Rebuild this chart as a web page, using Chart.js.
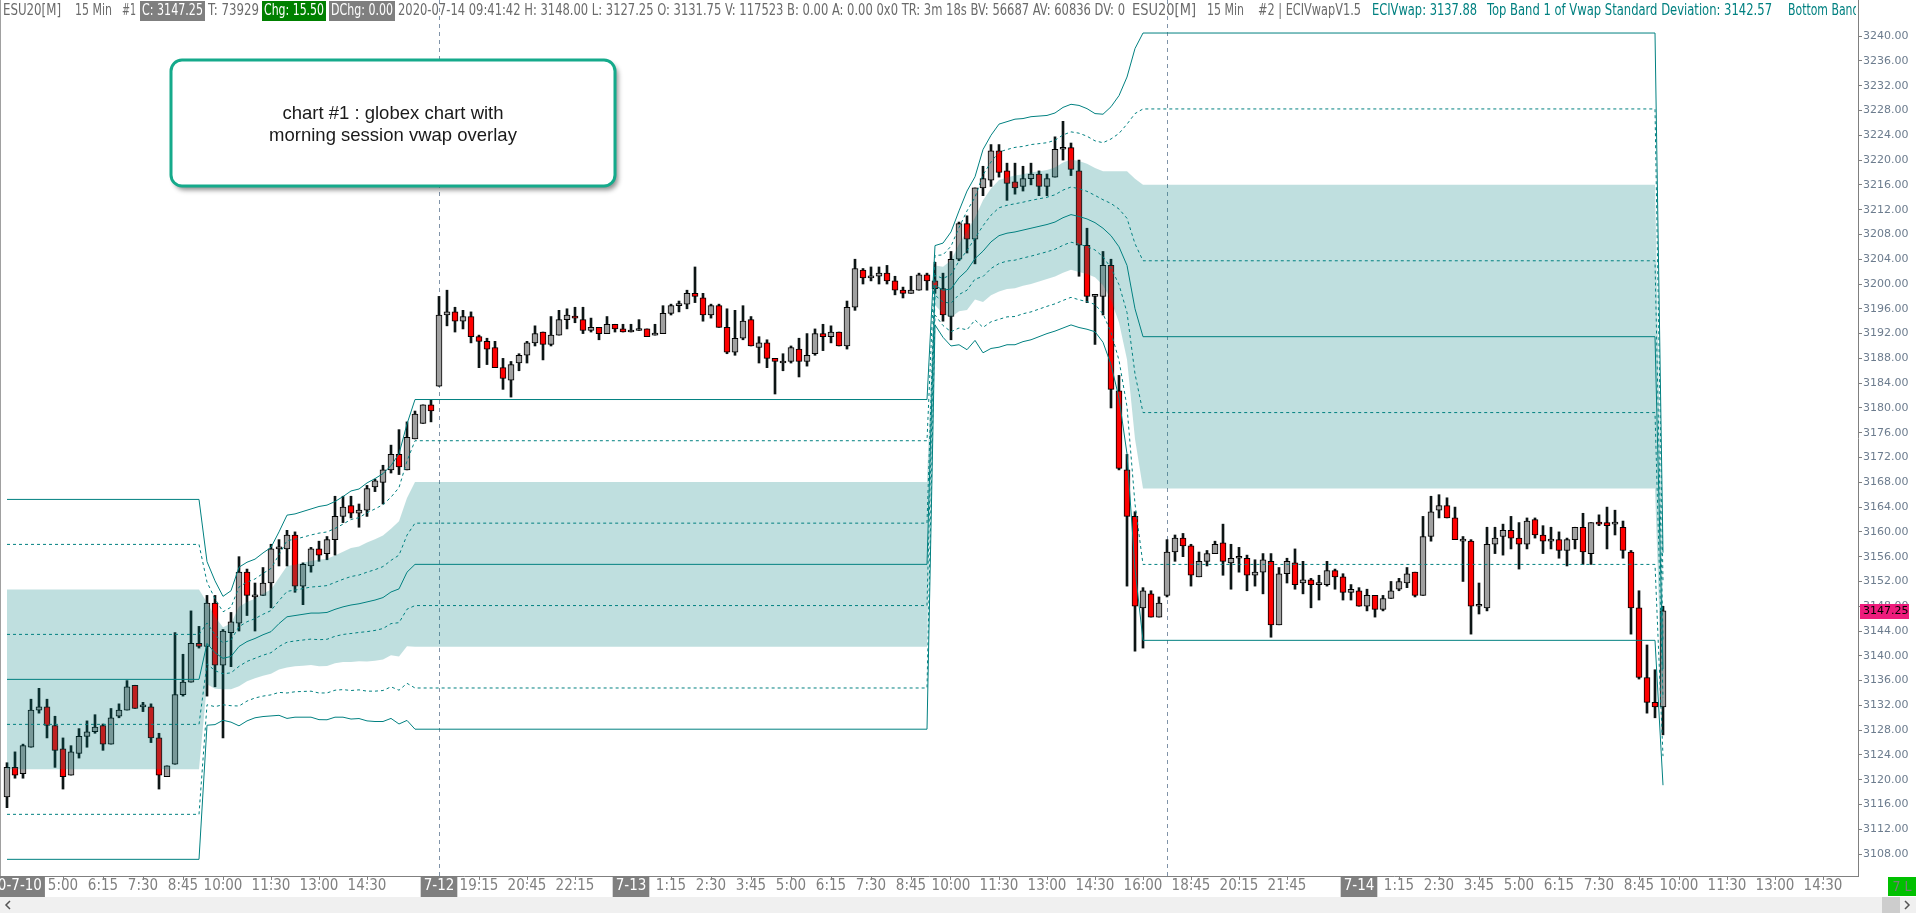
<!DOCTYPE html>
<html><head><meta charset="utf-8">
<script src="https://cdn.jsdelivr.net/npm/chart.js@4.4.0/dist/chart.umd.min.js"></script>
<style>html,body{margin:0;padding:0;background:#fff;overflow:hidden}canvas{display:block}</style>
</head><body>
<canvas id="c" width="1916" height="913"></canvas>
<script>
// ---- 15 min bars, ESU20, 2020-07-10 03:15 .. 2020-07-14 09:30 ----
const opens = [
3117.25,3122.0,3121.0,3125.25,3131.25,3131.75,3128.75,3125.0,3120.75,3124.25,
3127.0,3127.75,3128.75,3125.75,3130.25,3131.25,3135.25,3131.75,3131.75,3126.75,
3120.5,3122.5,3133.75,3135.75,3142.0,3141.5,3148.5,3138.5,3143.75,3145.25,
3153.5,3149.5,3149.75,3151.75,3157.25,3157.25,3159.5,3151.25,3154.5,3157.25,
3156.5,3158.75,3162.5,3164.25,3163.0,3163.5,3167.25,3168.0,3170.0,3172.5,
3170.0,3175.0,3177.5,3180.5,3183.5,3195.0,3195.5,3194.0,3194.75,3191.5,
3190.75,3189.75,3186.5,3184.5,3187.25,3188.5,3190.5,3192.25,3190.25,3191.75,
3194.25,3194.75,3194.25,3192.5,3193.0,3192.0,3193.5,3192.75,3192.25,3192.5,
3192.75,3191.75,3192.0,3195.25,3196.5,3196.75,3198.5,3197.75,3195.0,3196.5,
3193.0,3189.0,3191.25,3194.25,3189.75,3190.5,3188.0,3187.25,3187.5,3189.5,
3187.5,3188.75,3192.0,3191.5,3192.25,3190.0,3196.25,3202.25,3201.0,3201.25,
3201.75,3200.5,3199.0,3198.5,3199.0,3201.5,3200.5,3199.25,3194.75,3204.0,
3209.75,3207.25,3215.5,3216.75,3221.5,3218.25,3216.5,3215.75,3217.0,3217.75,
3215.75,3217.25,3221.75,3222.0,3218.25,3206.25,3198.0,3198.0,3203.0,3182.75,
3170.0,3162.5,3147.75,3150.0,3146.25,3149.75,3156.75,3159.0,3157.75,3152.75,
3155.25,3156.5,3158.25,3155.0,3155.75,3155.75,3153.0,3153.5,3155.25,3145.0,
3153.25,3155.0,3151.75,3152.25,3151.5,3151.5,3153.75,3152.75,3150.25,3150.5,
3148.0,3149.75,3147.5,3149.25,3150.75,3151.75,3153.5,3149.75,3159.25,3163.5,
3164.25,3162.25,3158.5,3158.5,3148.0,3147.75,3158.0,3159.25,3160.25,3159.0,
3158.0,3162.0,3159.5,3158.5,3158.75,3157.0,3158.75,3160.75,3156.5,3161.5,
3161.5,3161.25,3160.75,3156.75,3147.75,3136.5,3132.5,3131.75];
const highs = [
3122.75,3124.5,3125.75,3133.0,3134.75,3133.0,3130.25,3126.75,3125.5,3128.25,
3129.5,3130.5,3129.0,3131.5,3132.25,3136.0,3135.25,3132.5,3132.25,3127.5,
3122.25,3143.75,3140.25,3147.25,3144.75,3149.75,3149.75,3144.25,3147.0,3156.0,
3154.0,3151.75,3154.25,3158.0,3158.75,3160.25,3160.0,3155.0,3157.5,3158.5,
3159.25,3165.75,3165.75,3165.75,3164.5,3167.5,3168.5,3170.75,3174.0,3176.5,
3177.75,3179.5,3180.5,3181.25,3198.0,3199.0,3196.25,3195.75,3195.5,3191.75,
3191.25,3190.75,3188.0,3187.5,3188.75,3190.75,3193.25,3192.25,3194.75,3195.75,
3196.0,3196.25,3196.25,3194.5,3193.0,3194.75,3193.5,3193.5,3193.5,3194.25,
3192.75,3193.5,3196.5,3196.75,3197.25,3199.0,3202.75,3198.5,3196.75,3196.75,
3196.0,3195.75,3196.5,3194.75,3191.5,3191.0,3188.0,3188.75,3190.0,3191.25,
3192.0,3192.75,3193.5,3193.25,3192.25,3197.25,3204.0,3202.5,3202.75,3202.75,
3203.0,3201.25,3199.5,3201.25,3201.75,3201.75,3203.5,3201.75,3205.25,3210.0,
3211.0,3215.5,3219.0,3222.5,3222.5,3219.5,3219.5,3219.0,3219.5,3218.25,
3217.75,3223.75,3226.25,3222.75,3220.0,3209.0,3198.25,3205.25,3204.0,3185.25,
3172.5,3163.25,3151.0,3150.5,3149.5,3158.75,3159.5,3159.75,3158.0,3156.75,
3157.0,3158.5,3161.25,3158.0,3157.5,3156.25,3155.5,3156.5,3156.5,3154.25,
3155.75,3157.25,3155.25,3152.5,3153.0,3155.25,3154.0,3153.25,3151.5,3151.0,
3150.75,3149.75,3149.75,3152.0,3152.5,3154.25,3153.5,3162.5,3165.75,3166.0,
3165.5,3164.0,3159.25,3158.75,3151.75,3160.75,3160.75,3161.25,3162.5,3161.5,
3162.25,3162.25,3161.0,3160.75,3160.0,3159.0,3160.75,3163.0,3161.5,3162.75,
3164.0,3163.5,3161.75,3157.0,3150.5,3141.75,3137.75,3148.0];
const lows = [
3115.5,3120.25,3120.25,3125.25,3130.75,3126.75,3122.0,3118.5,3120.75,3123.5,
3125.25,3127.5,3124.75,3125.75,3130.0,3131.25,3131.5,3131.0,3126.0,3118.5,
3120.5,3122.5,3133.5,3135.75,3141.25,3133.5,3135.0,3126.75,3138.25,3144.0,
3146.5,3144.0,3149.75,3147.75,3154.5,3154.5,3150.25,3148.25,3153.5,3155.25,
3155.5,3156.25,3161.5,3162.25,3160.75,3162.5,3166.5,3164.5,3169.5,3169.25,
3170.0,3175.0,3177.5,3177.75,3183.5,3193.25,3192.25,3192.75,3190.5,3186.5,
3187.0,3186.5,3183.0,3181.75,3186.0,3187.25,3190.0,3187.75,3190.0,3191.75,
3192.75,3193.75,3192.0,3192.25,3191.0,3192.0,3192.25,3192.25,3192.25,3192.5,
3191.5,3191.75,3192.0,3195.0,3195.5,3196.0,3197.0,3194.0,3194.5,3193.0,
3188.75,3188.5,3191.0,3190.0,3187.25,3186.5,3182.25,3186.0,3187.25,3185.0,
3186.75,3188.5,3189.25,3190.5,3190.0,3189.5,3195.75,3200.0,3200.5,3200.0,
3200.0,3198.25,3197.75,3198.5,3199.0,3199.0,3198.5,3194.0,3191.0,3203.75,
3205.0,3203.25,3214.25,3215.75,3217.25,3213.5,3214.5,3215.0,3216.0,3214.25,
3214.25,3217.25,3220.0,3217.5,3201.25,3197.0,3190.25,3195.0,3180.0,3170.0,
3151.25,3140.75,3141.25,3146.25,3146.25,3149.5,3155.25,3156.0,3151.25,3152.75,
3154.5,3156.5,3153.0,3150.75,3153.5,3150.5,3151.25,3150.0,3143.0,3145.0,
3151.75,3150.75,3150.0,3147.75,3149.0,3151.25,3150.75,3149.0,3149.0,3148.0,
3147.25,3146.25,3147.25,3149.25,3150.5,3151.0,3149.5,3149.75,3158.5,3162.25,
3162.25,3158.75,3152.0,3143.5,3146.75,3147.25,3156.5,3156.25,3157.25,3154.0,
3157.25,3159.0,3156.5,3157.25,3155.75,3154.5,3157.25,3154.75,3154.75,3161.0,
3157.25,3159.5,3155.75,3143.5,3136.25,3130.75,3130.0,3127.25];
const closes = [
3122.0,3120.75,3125.5,3131.25,3131.75,3128.75,3124.75,3120.5,3124.5,3127.0,
3127.75,3128.5,3125.75,3130.0,3131.25,3135.0,3131.5,3131.75,3126.75,3120.75,
3122.25,3133.75,3135.75,3142.0,3141.5,3148.5,3138.5,3144.0,3145.5,3153.5,
3149.75,3149.75,3151.75,3157.25,3157.5,3159.5,3151.25,3154.75,3157.25,3156.25,
3158.75,3162.5,3164.0,3163.0,3163.5,3167.0,3168.25,3170.0,3172.5,3170.5,
3175.25,3179.0,3180.5,3179.5,3195.0,3195.5,3194.0,3194.75,3191.5,3190.75,
3189.5,3186.5,3184.75,3187.0,3188.5,3190.5,3192.0,3190.25,3191.75,3194.25,
3195.0,3194.5,3192.5,3193.0,3192.0,3193.5,3192.75,3192.25,3192.5,3192.5,
3191.5,3192.0,3195.25,3196.5,3196.75,3198.5,3198.0,3195.0,3196.5,3193.0,
3189.0,3191.25,3194.0,3190.0,3190.5,3188.0,3187.5,3187.5,3189.75,3187.5,
3188.5,3192.0,3191.5,3192.25,3190.0,3196.25,3202.5,3201.0,3201.25,3201.75,
3200.5,3199.0,3198.5,3199.0,3201.5,3200.5,3199.25,3195.0,3204.0,3209.75,
3207.25,3215.5,3217.0,3221.5,3218.0,3216.25,3215.5,3217.0,3217.75,3215.75,
3217.0,3221.75,3222.0,3218.5,3206.25,3198.0,3198.0,3203.0,3183.0,3170.25,
3162.5,3148.0,3150.5,3146.25,3148.5,3156.75,3159.0,3157.75,3153.0,3155.25,
3156.5,3158.0,3155.25,3155.75,3156.0,3153.0,3153.5,3155.5,3145.0,3153.25,
3155.25,3151.5,3152.25,3151.5,3151.5,3153.75,3152.75,3150.25,3150.75,3148.0,
3149.75,3147.5,3149.25,3150.5,3152.0,3153.25,3149.75,3159.25,3163.25,3164.25,
3162.25,3158.75,3158.75,3148.0,3148.0,3158.0,3159.0,3160.25,3159.0,3158.0,
3161.75,3159.5,3158.5,3158.5,3157.0,3158.75,3160.75,3156.75,3161.5,3161.25,
3161.0,3161.25,3157.0,3147.75,3136.5,3132.5,3131.75,3147.25];

// ---- morning-session VWAP (centre) and band step, one value per bar ----
const vwapMid = [
3136.2,3136.2,3136.2,3136.2,3136.2,3136.2,3136.2,3136.2,3136.2,3136.2,
3136.2,3136.2,3136.2,3136.2,3136.2,3136.2,3136.2,3136.2,3136.2,3136.2,
3136.2,3136.2,3136.2,3136.2,3136.2,
3142.0,3140.5,3139.6,3139.9,3141.5,3142.3,3142.8,3143.4,3143.9,3145.2,
3146.3,3146.5,3146.7,3146.9,3146.9,3147.0,3147.5,3147.9,3148.2,3148.4,
3148.7,3149.0,3149.4,3150.3,3150.8,3153.5,3154.76,
3154.76,3154.76,3154.76,3154.76,3154.76,3154.76,3154.76,3154.76,
3154.76,3154.76,3154.76,3154.76,3154.76,3154.76,3154.76,3154.76,
3154.76,3154.76,3154.76,3154.76,3154.76,3154.76,3154.76,3154.76,
3154.76,3154.76,3154.76,3154.76,3154.76,3154.76,3154.76,3154.76,
3154.76,3154.76,3154.76,3154.76,3154.76,3154.76,3154.76,3154.76,
3154.76,3154.76,3154.76,3154.76,3154.76,3154.76,3154.76,3154.76,
3154.76,3154.76,3154.76,3154.76,3154.76,3154.76,3154.76,3154.76,
3154.76,3154.76,3154.76,3154.76,3154.76,3154.76,3154.76,3154.76,
3199.8,3199.0,3199.2,3201.0,3202.2,3204.1,3205.3,3206.8,3207.8,3208.2,
3208.4,3208.7,3209.0,3209.3,3209.6,3210.0,3210.7,3211.2,3210.9,3210.5,
3209.9,3209.0,3207.8,3206.0,3203.0,3196.0,3191.5,
3191.5,3191.5,3191.5,3191.5,3191.5,3191.5,3191.5,3191.5,
3191.5,3191.5,3191.5,3191.5,3191.5,3191.5,3191.5,3191.5,
3191.5,3191.5,3191.5,3191.5,3191.5,3191.5,3191.5,3191.5,
3191.5,3191.5,3191.5,3191.5,3191.5,3191.5,3191.5,3191.5,
3191.5,3191.5,3191.5,3191.5,3191.5,3191.5,3191.5,3191.5,
3191.5,3191.5,3191.5,3191.5,3191.5,3191.5,3191.5,3191.5,
3191.5,3191.5,3191.5,3191.5,3191.5,3191.5,3191.5,3191.5,
3191.5,3191.5,3191.5,3191.5,3191.5,3191.5,3191.5,3191.5,
3137.88];
const vwapDev = [
7.26,7.26,7.26,7.26,7.26,7.26,7.26,7.26,7.26,7.26,
7.26,7.26,7.26,7.26,7.26,7.26,7.26,7.26,7.26,7.26,
7.26,7.26,7.26,7.26,7.26,
3.3,2.9,2.5,2.65,3.2,3.2,3.2,3.3,3.4,3.7,
4.1,4.1,4.15,4.2,4.3,4.33,4.35,4.45,4.6,4.63,
4.8,4.9,5.0,5.1,5.45,5.98,6.65,
6.65,6.65,6.65,6.65,6.65,6.65,6.65,6.65,
6.65,6.65,6.65,6.65,6.65,6.65,6.65,6.65,
6.65,6.65,6.65,6.65,6.65,6.65,6.65,6.65,
6.65,6.65,6.65,6.65,6.65,6.65,6.65,6.65,
6.65,6.65,6.65,6.65,6.65,6.65,6.65,6.65,
6.65,6.65,6.65,6.65,6.65,6.65,6.65,6.65,
6.65,6.65,6.65,6.65,6.65,6.65,6.65,6.65,
6.65,6.65,6.65,6.65,6.65,6.65,6.65,6.65,
1.6,1.9,2.3,2.7,3.2,3.3,4.1,4.3,4.5,4.5,
4.55,4.5,4.5,4.45,4.4,4.4,4.45,4.45,4.48,4.45,
4.4,4.6,5.2,6.1,7.6,10.5,12.25,
12.25,12.25,12.25,12.25,12.25,12.25,12.25,12.25,
12.25,12.25,12.25,12.25,12.25,12.25,12.25,12.25,
12.25,12.25,12.25,12.25,12.25,12.25,12.25,12.25,
12.25,12.25,12.25,12.25,12.25,12.25,12.25,12.25,
12.25,12.25,12.25,12.25,12.25,12.25,12.25,12.25,
12.25,12.25,12.25,12.25,12.25,12.25,12.25,12.25,
12.25,12.25,12.25,12.25,12.25,12.25,12.25,12.25,
12.25,12.25,12.25,12.25,12.25,12.25,12.25,12.25,
4.69];
const bandLevels = [4, 3, 2, 1, 0, -1, -2, -3, -4];

// ---- axis ticks ----
const tickIndex = [0,7,12,17,22,27,33,39,45,54,59,65,71,78,83,88,93,98,103,108,113,118,124,130,136,142,148,154,160,169,174,179,184,189,194,199,204,209,215,221,227];
const tickLabels = ['2020-7-10','5:00','6:15','7:30','8:45','10:00','11:30','13:00','14:30','7-12','19:15','20:45','22:15','7-13','1:15','2:30','3:45','5:00','6:15','7:30','8:45','10:00','11:30','13:00','14:30','16:00','18:45','20:15','21:45','7-14','1:15','2:30','3:45','5:00','6:15','7:30','8:45','10:00','11:30','13:00','14:30'];
const dateLabels = ['2020-7-10','7-12','7-13','7-14'];
const priceTicks = [3108,3112,3116,3120,3124,3128,3132,3136,3140,3144,3148,3152,3156,3160,3164,3168,3172,3176,3180,3184,3188,3192,3196,3200,3204,3208,3212,3216,3220,3224,3228,3232,3236,3240];
const sessionStarts = [54, 145];

const NARROW = '"Liberation Sans Narrow","DejaVu Sans Condensed","Liberation Sans",Arial,sans-serif';
const TEAL = '#008080';

const N = opens.length;
const bodyData = [], wickData = [], bodyColors = [];
for (let i = 0; i < N; i++) {
  bodyData.push({x: i, y: [opens[i], closes[i]]});
  wickData.push({x: i, y: [lows[i], highs[i]]});
  bodyColors.push(closes[i] >= opens[i] ? '#a0a0a0' : '#ff0000');
}

const datasets = [
  {type: 'bar', data: wickData, backgroundColor: '#0d1515', borderWidth: 0, barThickness: 2, grouped: false, order: 3, minBarLength: 1},
  {type: 'bar', data: bodyData, backgroundColor: bodyColors, borderColor: '#000', borderWidth: 1, borderSkipped: false, barThickness: 6, grouped: false, order: 2, minBarLength: 2}
];
bandLevels.forEach(k => {
  const dashed = Math.abs(k) === 1 || Math.abs(k) === 3;
  const hidden = Math.abs(k) === 2;
  datasets.push({
    type: 'line',
    data: vwapMid.map((m, i) => ({x: i, y: m + k * vwapDev[i]})),
    borderColor: hidden ? 'rgba(0,0,0,0)' : TEAL,
    borderWidth: 1,
    borderDash: dashed ? [3, 3] : [],
    pointRadius: 0, tension: 0,
    fill: k === 2 ? '+4' : false,
    backgroundColor: 'rgba(0,128,128,0.25)',
    order: 1
  });
});

const decor = {
  id: 'decor',
  beforeDatasetsDraw(chart) {
    const ctx = chart.ctx, xs = chart.scales.x, a = chart.chartArea;
    ctx.save();
    ctx.strokeStyle = '#8093a8'; ctx.lineWidth = 1; ctx.setLineDash([4, 4]);
    sessionStarts.forEach(i => {
      const px = Math.round(xs.getPixelForValue(i)) + 0.5;
      ctx.beginPath(); ctx.moveTo(px, 0); ctx.lineTo(px, a.bottom); ctx.stroke();
    });
    ctx.restore();
  },
  afterDraw(chart) {
    const ctx = chart.ctx, ys = chart.scales.y, a = chart.chartArea;
    ctx.save();
    // left border
    ctx.strokeStyle = '#a0a0a0'; ctx.lineWidth = 1;
    ctx.beginPath(); ctx.moveTo(0.5, 0); ctx.lineTo(0.5, a.bottom); ctx.stroke();

    // header
    ctx.save();
    ctx.beginPath(); ctx.rect(0, 0, 1856, 24); ctx.clip();
    const parts = [
      {t: 'ESU20[M]', x: 3, w: 58},
      {t: '15 Min', x: 75, w: 37},
      {t: '#1', x: 122, w: 14},
      {t: 'C: 3147.25', x: 140, w: 65, bg: '#7f7f7f', c: '#ffffff'},
      {t: 'T: 73929', x: 208, w: 51},
      {t: 'Chg: 15.50', x: 262, w: 64, bg: '#008000', c: '#ffffff'},
      {t: 'DChg: 0.00', x: 329, w: 66, bg: '#7f7f7f', c: '#ffffff'},
      {t: '2020-07-14 09:41:42 H: 3148.00 L: 3127.25 O: 3131.75 V: 117523 B: 0.00 A: 0.00 0x0 TR: 3m 18s BV: 56687 AV: 60836 DV: 0', x: 398, w: 727},
      {t: 'ESU20[M]', x: 1132, w: 64},
      {t: '15 Min', x: 1207, w: 37},
      {t: '#2 | ECIVwapV1.5', x: 1258, w: 103},
      {t: 'ECIVwap: 3137.88', x: 1372, w: 105, c: TEAL},
      {t: 'Top Band 1 of Vwap Standard Deviation: 3142.57', x: 1487, w: 285, c: TEAL},
      {t: 'Bottom Band 1 of Vwap Standard Deviation: 3133.19', x: 1788, w: 290, c: TEAL}
    ];
    ctx.font = '15px ' + NARROW; ctx.textBaseline = 'middle';
    parts.forEach(p => {
      if (p.bg) {
        ctx.fillStyle = p.bg; ctx.fillRect(p.x, 1, p.w, 20);
        ctx.fillStyle = p.c; ctx.textAlign = 'center';
        ctx.fillText(p.t, p.x + p.w / 2, 11.5, p.w - 4);
      } else {
        ctx.fillStyle = p.c || '#6a6a6a'; ctx.textAlign = 'left';
        ctx.fillText(p.t, p.x, 11.5, p.w);
      }
    });
    ctx.restore();

    // annotation box
    const bx = 171, by = 60, bw = 444, bh = 126, r = 11;
    ctx.save();
    ctx.shadowColor = 'rgba(0,0,0,0.45)'; ctx.shadowBlur = 5; ctx.shadowOffsetX = 3; ctx.shadowOffsetY = 4;
    ctx.beginPath(); ctx.roundRect(bx, by, bw, bh, r); ctx.fillStyle = '#ffffff'; ctx.fill();
    ctx.restore();
    ctx.beginPath(); ctx.roundRect(bx, by, bw, bh, r);
    ctx.lineWidth = 3; ctx.strokeStyle = '#15aa8b'; ctx.stroke();
    ctx.fillStyle = '#1a1a1a'; ctx.font = '18.5px "Liberation Sans",Arial,sans-serif';
    ctx.textAlign = 'center'; ctx.textBaseline = 'middle';
    ctx.fillText('chart #1 : globex chart with', 393, 114);
    ctx.fillText('morning session vwap overlay', 393, 136);

    // last price marker
    const py = ys.getPixelForValue(closes[N - 1]);
    ctx.fillStyle = '#ee1c7c'; ctx.fillRect(1860, Math.round(py) - 7, 49, 15);
    ctx.fillStyle = '#000'; ctx.font = '11px "DejaVu Sans",sans-serif'; ctx.textAlign = 'left';
    ctx.fillText(closes[N - 1].toFixed(2), 1863, Math.round(py) + 0.5);

    // green status box
    ctx.fillStyle = '#00c000'; ctx.fillRect(1888, 877, 28, 19);
    ctx.fillStyle = '#7a7a7a'; ctx.font = '14px ' + NARROW; ctx.textAlign = 'center';
    ctx.fillText('7 L', 1902, 887);

    // scrollbar
    ctx.fillStyle = '#f0f0f0'; ctx.fillRect(0, 897, 1916, 16);
    ctx.fillStyle = '#cdcdcd'; ctx.fillRect(1882, 897, 18, 16);
    ctx.strokeStyle = '#555'; ctx.lineWidth = 1.5;
    ctx.beginPath(); ctx.moveTo(10, 901); ctx.lineTo(6, 905); ctx.lineTo(10, 909); ctx.stroke();
    ctx.beginPath(); ctx.moveTo(1905, 901); ctx.lineTo(1909, 905); ctx.lineTo(1905, 909); ctx.stroke();
    ctx.restore();
  }
};

const isDate = ctx => dateLabels.includes(tickLabels[ctx.index]);

new Chart(document.getElementById('c'), {
  type: 'bar',
  data: {datasets},
  options: {
    responsive: false, animation: false, devicePixelRatio: 1, events: [],
    layout: {padding: {left: 0, right: 0, top: 0, bottom: 16}},
    plugins: {legend: {display: false}, tooltip: {enabled: false}},
    scales: {
      x: {
        type: 'linear', min: -0.875, max: 231.375, offset: false,
        afterBuildTicks: s => { s.ticks = tickIndex.map(v => ({value: v})); },
        afterFit: s => { s.height = 21; s.paddingLeft = 0; s.paddingRight = 0; },
        ticks: {
          autoSkip: false, maxRotation: 0, minRotation: 0, padding: -1,
          callback: (v, idx) => tickLabels[idx],
          color: ctx => isDate(ctx) ? '#ffffff' : '#808080',
          showLabelBackdrop: ctx => isDate(ctx),
          backdropColor: ctx => isDate(ctx) ? '#7f7f7f' : 'rgba(0,0,0,0)',
          backdropPadding: {x: 3, y: 3},
          font: {family: NARROW, size: 15, lineHeight: 1}
        },
        grid: {drawOnChartArea: false, drawTicks: true, tickLength: 4, tickColor: '#808080', offset: false},
        border: {display: true, color: '#808080', width: 1}
      },
      y: {
        type: 'linear', position: 'right', min: 3104.47, max: 3245.83,
        afterBuildTicks: s => { s.ticks = priceTicks.map(v => ({value: v})); },
        afterFit: s => { s.width = 58; s.paddingTop = 0; s.paddingBottom = 0; },
        ticks: {
          autoSkip: false, padding: 1,
          callback: v => Number(v).toFixed(2),
          color: '#6c7c8e',
          font: {family: '"DejaVu Sans",sans-serif', size: 11}
        },
        grid: {drawOnChartArea: false, drawTicks: true, tickLength: 4, tickColor: '#808080'},
        border: {display: true, color: '#808080', width: 1}
      }
    }
  },
  plugins: [decor]
});
</script>
</body></html>
